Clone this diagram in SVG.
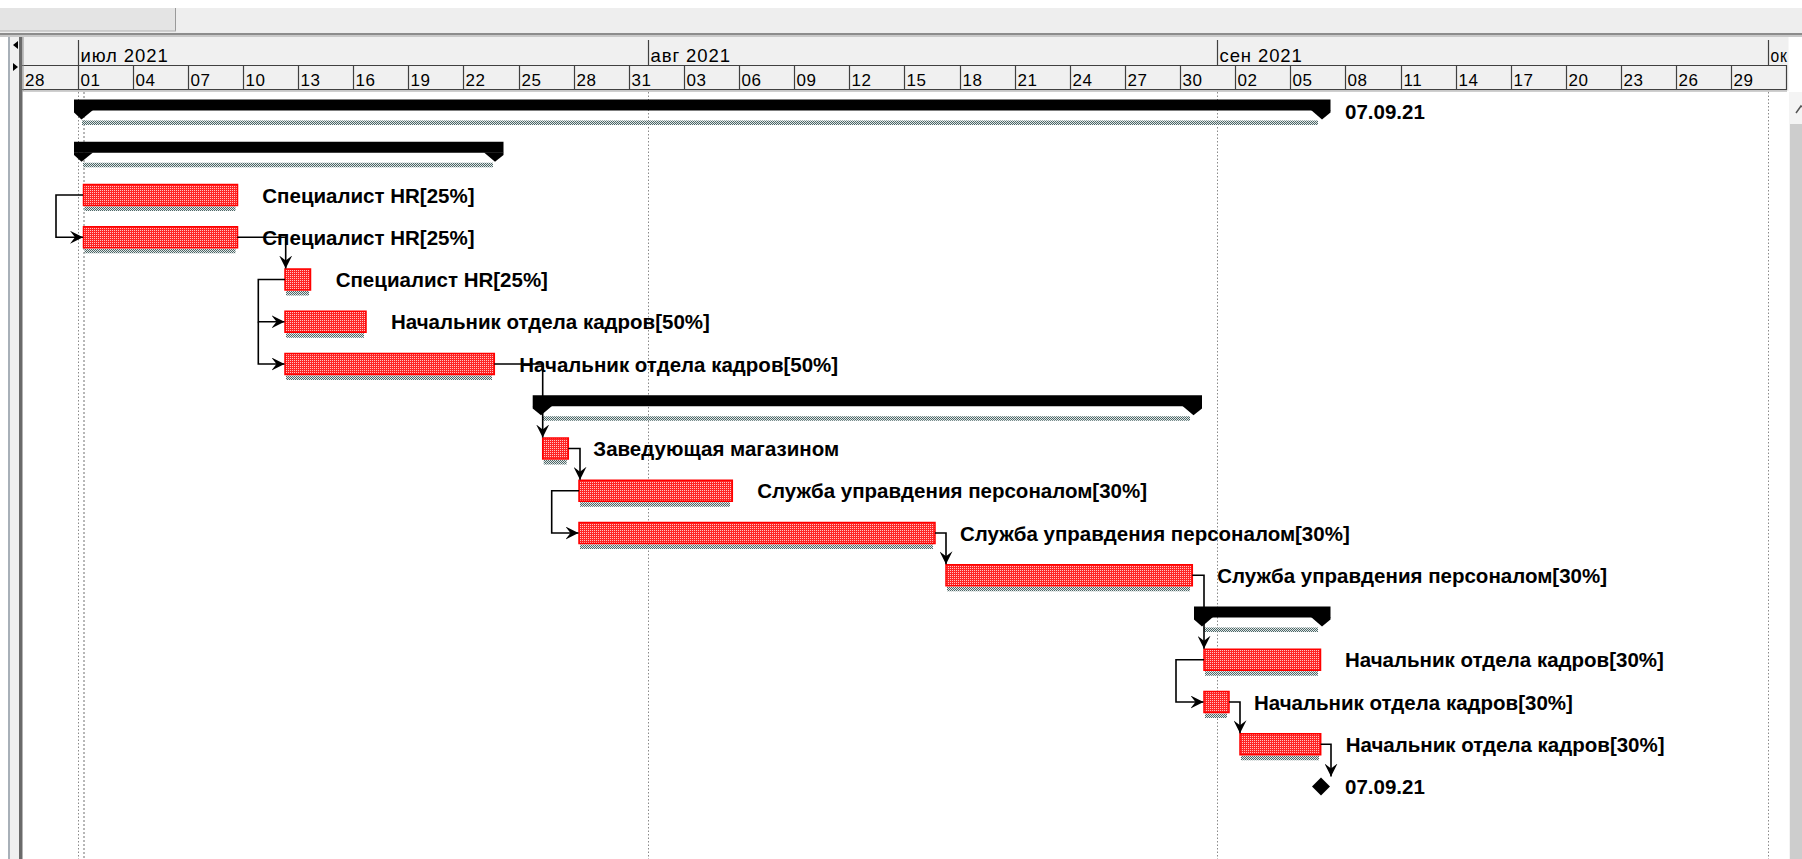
<svg xmlns="http://www.w3.org/2000/svg" width="1802" height="859" viewBox="0 0 1802 859">
<style>
.hdr{font-family:"Liberation Sans",Arial,sans-serif;fill:#000}
.mon{font-size:18.5px;letter-spacing:0.9px}
.day{font-size:17px;letter-spacing:0.6px}
.lbl{font-family:"Liberation Sans",Arial,sans-serif;font-weight:bold;font-size:20.5px;fill:#000}
.tick{stroke:#404040;stroke-width:1.2}
.grid{stroke:#8a8a8a;stroke-width:1;stroke-dasharray:1.5 2}
.conn{fill:none;stroke:#000;stroke-width:1.6}
.task{fill:url(#redp);stroke:#ff0000;stroke-width:1.5}
.shad{fill:url(#shp)}
.sum{fill:#000}
</style>
<defs>
<pattern id="redp" width="2" height="2" patternUnits="userSpaceOnUse">
<rect width="2" height="2" fill="#ff2424"/>
<rect width="1" height="1" fill="#ffc4c4"/>
</pattern>
<pattern id="shp" width="2" height="2" patternUnits="userSpaceOnUse">
<rect width="2" height="2" fill="#e2e8e8"/>
<rect width="1" height="1" fill="#4c6666"/>
<rect x="1" y="1" width="1" height="1" fill="#4c6666"/>
</pattern>
<marker id="arr" viewBox="0 0 13 13" refX="13" refY="6.5" markerWidth="13" markerHeight="13" markerUnits="userSpaceOnUse" orient="auto">
<path d="M0,0 L13,6.5 L0,13 L5,6.5 z" fill="#000"/>
</marker>
</defs>

<!-- window chrome -->
<g id="chrome">
<rect x="0" y="0" width="1802" height="859" fill="#ffffff"/>
<rect x="0" y="8" width="1802" height="26" fill="#eeeeee"/>
<rect x="0" y="8" width="175" height="23" fill="#e4e4e4"/>
<line x1="175.5" y1="8" x2="175.5" y2="31" stroke="#9a9a9a" stroke-width="1"/>
<line x1="0" y1="31" x2="176" y2="31" stroke="#b0b0b0" stroke-width="1"/>
<rect x="0" y="33" width="1802" height="2" fill="#8c8c8c"/>
<rect x="0" y="35" width="1802" height="2" fill="#c8c8c8"/>
<rect x="8" y="37" width="2" height="822" fill="#a8b0b8"/>
<rect x="10" y="37" width="9" height="822" fill="#f0f0f0"/>
<rect x="19" y="37" width="3.5" height="822" fill="#6a6a6a"/>
<path d="M18,41 L13,45 L18,49 z" fill="#000"/>
<path d="M13,63 L18,67 L13,71 z" fill="#000"/>
<rect x="1789" y="92" width="13" height="767" fill="#f4f4f4"/>
<rect x="1790" y="124" width="12" height="735" fill="#cdcdcd"/>
<path d="M1796,113 L1801,106 L1802,107" fill="none" stroke="#555" stroke-width="1.5"/>
</g>

<!-- timescale header -->
<g id="header">
<rect x="22.5" y="37" width="1766" height="54" fill="#f0f0f0"/>
<line x1="22" y1="65.5" x2="1787" y2="65.5" class="tick"/>
<line x1="22" y1="89.5" x2="1787" y2="89.5" class="tick"/>
<line x1="22" y1="91" x2="1787" y2="91" stroke="#a0a0a0" stroke-width="1"/>
<line x1="1786.5" y1="65" x2="1786.5" y2="90" class="tick"/>
<line x1="23" y1="37" x2="23" y2="91" stroke="#909090" stroke-width="1"/>
<line x1="78.5" y1="40" x2="78.5" y2="89" class="tick"/>
<line x1="648.5" y1="40" x2="648.5" y2="65" class="tick"/>
<line x1="1217.5" y1="40" x2="1217.5" y2="65" class="tick"/>
<line x1="1768.5" y1="40" x2="1768.5" y2="65" class="tick"/>
<text class="hdr mon" x="80.5" y="62">июл 2021</text>
<text class="hdr mon" x="650.5" y="62">авг 2021</text>
<text class="hdr mon" x="1219.5" y="62">сен 2021</text>
<text class="hdr mon" x="1770.5" y="62" textLength="17" lengthAdjust="spacingAndGlyphs">ок</text>
<g class="tick">
<line x1="133.5" y1="65" x2="133.5" y2="89"/><line x1="188.5" y1="65" x2="188.5" y2="89"/>
<line x1="243.5" y1="65" x2="243.5" y2="89"/><line x1="298.5" y1="65" x2="298.5" y2="89"/>
<line x1="353.5" y1="65" x2="353.5" y2="89"/><line x1="408.5" y1="65" x2="408.5" y2="89"/>
<line x1="463.5" y1="65" x2="463.5" y2="89"/><line x1="519.5" y1="65" x2="519.5" y2="89"/>
<line x1="574.5" y1="65" x2="574.5" y2="89"/><line x1="629.5" y1="65" x2="629.5" y2="89"/>
<line x1="684.5" y1="65" x2="684.5" y2="89"/><line x1="739.5" y1="65" x2="739.5" y2="89"/>
<line x1="794.5" y1="65" x2="794.5" y2="89"/><line x1="849.5" y1="65" x2="849.5" y2="89"/>
<line x1="904.5" y1="65" x2="904.5" y2="89"/><line x1="960.5" y1="65" x2="960.5" y2="89"/>
<line x1="1015.5" y1="65" x2="1015.5" y2="89"/><line x1="1070.5" y1="65" x2="1070.5" y2="89"/>
<line x1="1125.5" y1="65" x2="1125.5" y2="89"/><line x1="1180.5" y1="65" x2="1180.5" y2="89"/>
<line x1="1235.5" y1="65" x2="1235.5" y2="89"/><line x1="1290.5" y1="65" x2="1290.5" y2="89"/>
<line x1="1345.5" y1="65" x2="1345.5" y2="89"/><line x1="1401.5" y1="65" x2="1401.5" y2="89"/>
<line x1="1456.5" y1="65" x2="1456.5" y2="89"/><line x1="1511.5" y1="65" x2="1511.5" y2="89"/>
<line x1="1566.5" y1="65" x2="1566.5" y2="89"/><line x1="1621.5" y1="65" x2="1621.5" y2="89"/>
<line x1="1676.5" y1="65" x2="1676.5" y2="89"/><line x1="1731.5" y1="65" x2="1731.5" y2="89"/>
</g>
<g class="hdr day">
<text x="25" y="86">28</text><text x="80.5" y="86">01</text><text x="135.5" y="86">04</text>
<text x="190.5" y="86">07</text><text x="245.5" y="86">10</text><text x="300.5" y="86">13</text>
<text x="355.5" y="86">16</text><text x="410.5" y="86">19</text><text x="465.5" y="86">22</text>
<text x="521.5" y="86">25</text><text x="576.5" y="86">28</text><text x="631.5" y="86">31</text>
<text x="686.5" y="86">03</text><text x="741.5" y="86">06</text><text x="796.5" y="86">09</text>
<text x="851.5" y="86">12</text><text x="906.5" y="86">15</text><text x="962.5" y="86">18</text>
<text x="1017.5" y="86">21</text><text x="1072.5" y="86">24</text><text x="1127.5" y="86">27</text>
<text x="1182.5" y="86">30</text><text x="1237.5" y="86">02</text><text x="1292.5" y="86">05</text>
<text x="1347.5" y="86">08</text><text x="1403.5" y="86">11</text><text x="1458.5" y="86">14</text>
<text x="1513.5" y="86">17</text><text x="1568.5" y="86">20</text><text x="1623.5" y="86">23</text>
<text x="1678.5" y="86">26</text><text x="1733.5" y="86">29</text>
</g>
</g>

<!-- gridlines -->
<g id="grid">
<line x1="78.5" y1="92" x2="78.5" y2="859" class="grid"/>
<line x1="84" y1="92" x2="84" y2="859" stroke="#a0a0a0" stroke-width="1.5" stroke-dasharray="2 2"/>
<line x1="648.5" y1="92" x2="648.5" y2="859" class="grid"/>
<line x1="1217.5" y1="92" x2="1217.5" y2="859" class="grid"/>
<line x1="1768.5" y1="92" x2="1768.5" y2="859" class="grid"/>
</g>

<!-- nodes -->
<g id="row0-summary">
<rect class="shad" x="82" y="120.5" width="1236" height="4.5"/>
<rect class="sum" x="74" y="99.5" width="1256.5" height="11"/>
<polygon class="sum" points="74,110 74,112.5 81.5,119.5 93,110"/>
<polygon class="sum" points="1330.5,110 1330.5,112.5 1322,119.5 1311,110"/>
<text class="lbl" x="1345" y="118.5">07.09.21</text>
</g>
<g id="row1-summary">
<rect class="shad" x="83" y="162.75" width="410" height="4.5"/>
<rect class="sum" x="74" y="141.75" width="429.5" height="11"/>
<polygon class="sum" points="74,152.5 74,155 81.5,161.75 93,152.5"/>
<polygon class="sum" points="503.5,152.5 503.5,155 495,161.75 484,152.5"/>
</g>
<g id="row2-task">
<rect class="shad" x="84.5" y="206.5" width="151" height="4.5"/>
<rect class="task" x="83.5" y="184.5" width="154" height="21"/>
<text class="lbl" x="262.3" y="202.5">Специалист HR[25%]</text>
</g>
<g id="row3-task">
<rect class="shad" x="84.5" y="248.75" width="151" height="4.5"/>
<rect class="task" x="83.5" y="226.75" width="154" height="21"/>
</g>
<g id="row4-task">
<rect class="shad" x="286" y="291" width="23" height="4.5"/>
<rect class="task" x="285" y="269" width="25.5" height="21"/>
<text class="lbl" x="335.7" y="287">Специалист HR[25%]</text>
</g>
<g id="row5-task">
<rect class="shad" x="286" y="333.25" width="78" height="4.5"/>
<rect class="task" x="285" y="311.25" width="81" height="21"/>
<text class="lbl" x="391" y="329.25">Начальник отдела кадров[50%]</text>
</g>
<g id="row6-task">
<rect class="shad" x="286" y="375.5" width="206" height="4.5"/>
<rect class="task" x="285" y="353.5" width="209.3" height="21"/>
</g>
<g id="row7-summary">
<rect class="shad" x="543" y="416.25" width="647" height="4.5"/>
<rect class="sum" x="532.7" y="395.25" width="669.3" height="11"/>
<polygon class="sum" points="532.7,406 532.7,408.5 541,415.25 552,406"/>
<polygon class="sum" points="1202,406 1202,408.5 1193.5,415.25 1182.5,406"/>
</g>
<g id="row8-task">
<rect class="shad" x="543.7" y="460" width="23" height="4.5"/>
<rect class="task" x="542.7" y="438" width="25.6" height="21"/>
<text class="lbl" x="593.3" y="456">Заведующая магазином</text>
</g>
<g id="row9-task">
<rect class="shad" x="580" y="502.25" width="150" height="4.5"/>
<rect class="task" x="579" y="480.25" width="153.3" height="21"/>
<text class="lbl" x="757.3" y="498.25">Служба управдения персоналом[30%]</text>
</g>
<g id="row10-task">
<rect class="shad" x="580" y="544.5" width="353" height="4.5"/>
<rect class="task" x="579" y="522.5" width="356" height="21"/>
</g>
<g id="row11-task">
<rect class="shad" x="947" y="586.75" width="243" height="4.5"/>
<rect class="task" x="946" y="564.75" width="246.3" height="21"/>
<text class="lbl" x="1217.3" y="582.75">Служба управдения персоналом[30%]</text>
</g>
<g id="row12-summary">
<rect class="shad" x="1204" y="627.5" width="114" height="4.5"/>
<rect class="sum" x="1194" y="606.5" width="136.5" height="11"/>
<polygon class="sum" points="1194,617 1194,619.5 1202,626.5 1213,617"/>
<polygon class="sum" points="1330.5,617 1330.5,619.5 1322,626.5 1311,617"/>
</g>
<g id="row13-task">
<rect class="shad" x="1205" y="671.25" width="113" height="4.5"/>
<rect class="task" x="1204" y="649.25" width="116.5" height="21"/>
<text class="lbl" x="1345" y="667.25">Начальник отдела кадров[30%]</text>
</g>
<g id="row14-task">
<rect class="shad" x="1205" y="713.5" width="22" height="4.5"/>
<rect class="task" x="1204" y="691.5" width="25" height="21"/>
<text class="lbl" x="1254" y="709.5">Начальник отдела кадров[30%]</text>
</g>
<g id="row15-task">
<rect class="shad" x="1241" y="755.75" width="78" height="4.5"/>
<rect class="task" x="1240" y="733.75" width="80.7" height="21"/>
<text class="lbl" x="1345.7" y="751.75">Начальник отдела кадров[30%]</text>
</g>
<g id="row16-milestone">
<polygon points="1321,777.5 1330,786.5 1321,795.5 1312,786.5" fill="#000"/>
<text class="lbl" x="1345" y="794">07.09.21</text>
</g>

<!-- connectors -->
<g id="connectors" class="conn">
<path d="M83,195 H56 V237.25 H83" marker-end="url(#arr)"/>
<path d="M237.3,237.25 H285.7 V268.5" marker-end="url(#arr)"/>
<path d="M285,279.5 H258.3 V321.75 H284.5" marker-end="url(#arr)"/>
<path d="M258.3,321.75 V364 H284.5" marker-end="url(#arr)"/>
<path d="M494.3,364 H542.7 V437.5" marker-end="url(#arr)"/>
<path d="M568.3,448.5 H580 V479.75" marker-end="url(#arr)"/>
<path d="M579,490.75 H551.7 V533 H578.5" marker-end="url(#arr)"/>
<path d="M935,533 H946 V564.25" marker-end="url(#arr)"/>
<path d="M1192.3,575.25 H1204 V648.75" marker-end="url(#arr)"/>
<path d="M1204,659.75 H1176 V702 H1203.5" marker-end="url(#arr)"/>
<path d="M1229,702 H1240 V733.25" marker-end="url(#arr)"/>
<path d="M1320.7,744.25 H1331 V776.5" marker-end="url(#arr)"/>
</g>

<!-- labels drawn over connector lines -->
<g id="row3-label"><text class="lbl" x="262.3" y="244.75">Специалист HR[25%]</text></g>
<g id="row6-label"><text class="lbl" x="519.3" y="371.5">Начальник отдела кадров[50%]</text></g>
<g id="row10-label"><text class="lbl" x="960" y="540.5">Служба управдения персоналом[30%]</text></g>
</svg>
